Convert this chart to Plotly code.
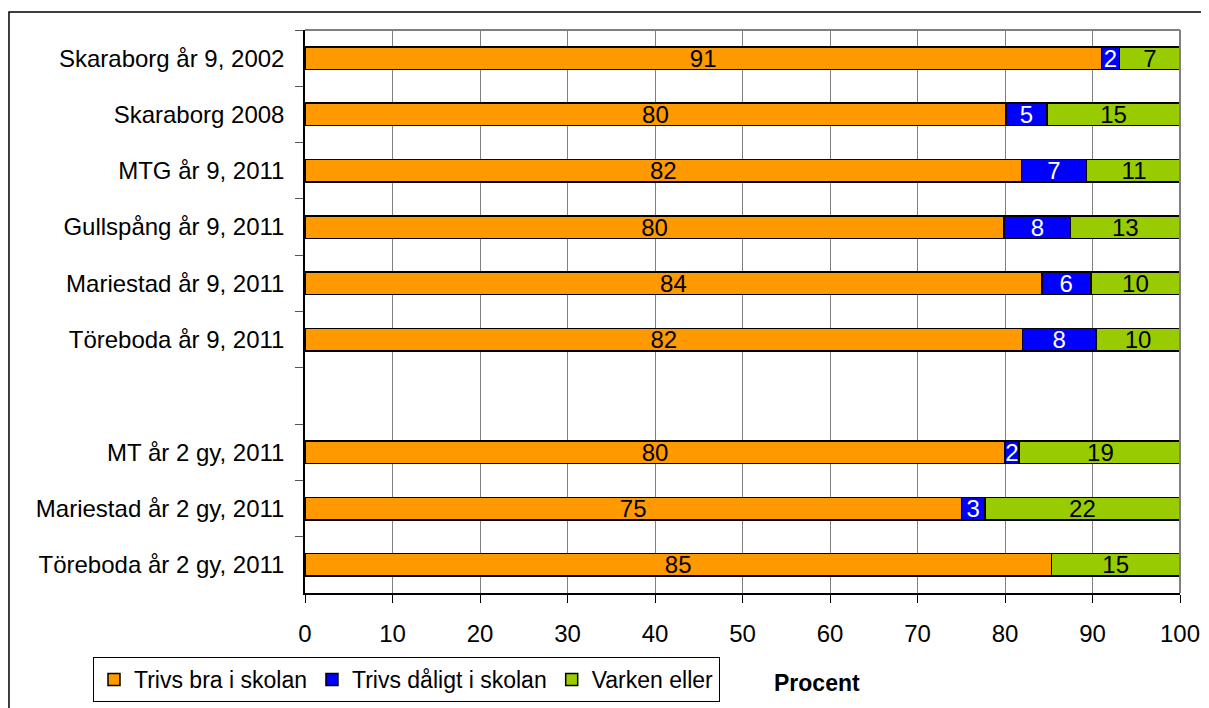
import plotly.graph_objects as go

# categories top -> bottom, " " is the empty gap row
categories = ["Skaraborg år 9, 2002", "Skaraborg 2008", "MTG år 9, 2011",
              "Gullspång år 9, 2011", "Mariestad år 9, 2011", "Töreboda år 9, 2011",
              " ", "MT år 2 gy, 2011", "Mariestad år 2 gy, 2011", "Töreboda år 2 gy, 2011"]

trivs_bra = [91.0, 80.1, 81.9, 79.9, 84.2, 82.0, None, 80.0, 75.0, 85.3]
trivs_daligt = [2.1, 4.7, 7.4, 7.6, 5.6, 8.4, None, 1.6, 2.7, None]
varken = [6.9, 15.2, 10.9, 12.5, 10.2, 9.6, None, 18.6, 22.3, 14.7]

FONT = "Liberation Sans, Arial"

fig = go.Figure()

def labels(vals):
    return ["" if v is None else str(int(v + 0.5)) for v in vals]

series = [
    ("Trivs bra i skolan", trivs_bra, "#FF9900", "black"),
    ("Trivs dåligt i skolan", trivs_daligt, "#0000FF", "white"),
    ("Varken eller", varken, "#99CC00", "black"),
]
for name, vals, color, txtcol in series:
    fig.add_trace(go.Bar(
        y=categories, x=vals, name=name, orientation="h",
        marker=dict(color=color, line=dict(color="black", width=1.5)),
        text=labels(vals), textposition="inside", insidetextanchor="middle",
        constraintext="none", textangle=0,
        textfont=dict(family=FONT, size=24, color=txtcol),
        width=0.4,
    ))

# the html body has an 8px margin, so positions are shifted by -8px
fig.update_layout(
    barmode="stack",
    width=1209, height=708,
    margin=dict(l=297, r=37, t=22, b=123),
    paper_bgcolor="white", plot_bgcolor="white",
    font=dict(family=FONT, size=24, color="black"),
    showlegend=True,
    legend=dict(orientation="h", x=-0.2423, y=-0.1137, xanchor="left", yanchor="top",
                bordercolor="black", borderwidth=1, bgcolor="white",
                font=dict(size=23), traceorder="normal",
                itemwidth=30, tracegroupgap=0),
    xaxis=dict(range=[0, 100], dtick=10, showgrid=True, gridcolor="#808080", gridwidth=1,
               showline=True, linecolor="black", linewidth=1.5, mirror=False,
               ticks="outside", ticklen=8, tickcolor="black", zeroline=False,
               ticklabelstandoff=10, tickfont=dict(size=24)),
    yaxis=dict(categoryorder="array", categoryarray=categories, autorange="reversed",
               showline=True, linecolor="black", linewidth=1.5,
               ticks="outside", ticklen=8, tickcolor="#555555", tickson="boundaries",
               ticklabelstandoff=14, showgrid=False, tickfont=dict(size=24)),
    annotations=[dict(text="<b>Procent</b>", x=0.585, y=-0.16, xref="paper", yref="paper",
                      showarrow=False, font=dict(size=23), xanchor="center", yanchor="middle")],
    shapes=[
        # plot area frame top/right in gray
        dict(type="line", xref="paper", yref="paper", x0=0, x1=1, y0=1, y1=1,
             line=dict(color="#808080", width=2)),
        dict(type="line", xref="paper", yref="paper", x0=1, x1=1, y0=0, y1=1,
             line=dict(color="#808080", width=2)),
        # outer chart border (top & left visible)
        dict(type="rect", xref="paper", yref="paper", x0=-0.3383, x1=1.2, y0=-0.3, y1=1.032,
             line=dict(color="black", width=1.5), layer="below"),
    ],
)

fig.write_html("out.html")
